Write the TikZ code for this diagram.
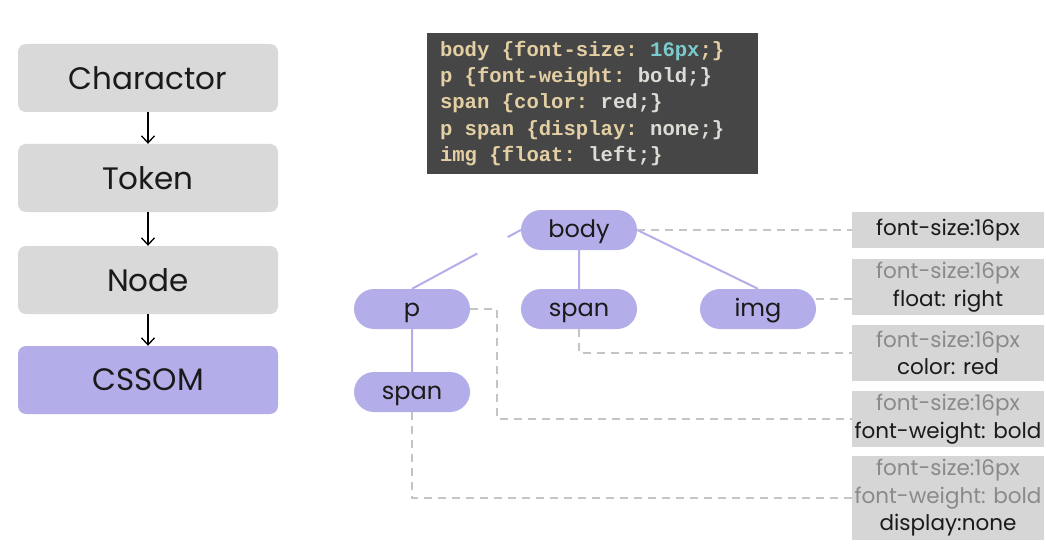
\documentclass[tikz,border=0pt]{standalone}
\usepackage{fontspec}
\setmainfont{Poppins}
\setmonofont{Liberation Mono}
\usetikzlibrary{arrows.meta,shapes.misc}
\definecolor{boxgray}{HTML}{D9D9D9}
\definecolor{propgray}{HTML}{D6D6D6}
\definecolor{lav}{HTML}{B3AEEA}
\definecolor{codebg}{HTML}{464646}
\definecolor{codetan}{HTML}{E3CFA3}
\definecolor{codeval}{HTML}{DCDCD6}
\definecolor{codeteal}{HTML}{7CCBCC}
\definecolor{dashgray}{HTML}{C4C4C4}
\definecolor{inhgray}{HTML}{8A8A8A}
\definecolor{txt}{HTML}{1A1A1A}
\newcommand\msp{\hspace*{0.6em}}
\tikzset{
  flowbox/.style={rounded corners=8pt, fill=boxgray, minimum width=260pt, minimum height=68pt, inner sep=0pt, text=txt, font=\fontsize{31}{34}\selectfont},
  flowarrow/.style={line width=1.3pt, -{Straight Barb[length=7pt,width=13pt]}},
  pill/.style={rounded rectangle, fill=lav, minimum width=116pt, minimum height=40pt, inner sep=0pt, text=txt, text height=17pt, text depth=1.8pt, font=\fontsize{24}{26}\selectfont},
  treeline/.style={draw=lav, line width=2pt},
  prop/.style={fill=propgray, minimum width=192pt, inner sep=0pt, align=center, text=txt, font=\fontsize{21.5}{27.5}\selectfont},
  dashline/.style={draw=dashgray, line width=1.5pt, dash pattern=on 8pt off 6pt}
}
\begin{document}
\begin{tikzpicture}[x=1pt,y=-1pt]
\useasboundingbox (0,0) rectangle (1046,548);
% left flow
\node[flowbox] (c1) at (148,78) {Charactor};
\node[flowbox] (c2) at (148,178) {Token};
\node[flowbox] (c3) at (148,280) {Node};
\node[flowbox, fill=lav] (c4) at (148,380) {CSSOM};
\draw[flowarrow] (c1) -- (c2);
\draw[flowarrow] (c2) -- (c3);
\draw[flowarrow] (c3) -- (c4);
% code box
\node[fill=codebg, minimum width=331pt, minimum height=141pt, text width=305pt, align=left, inner sep=0pt,
      font=\ttfamily\bfseries\fontsize{20.6}{26.4}\selectfont] (css) at (592.5,103.5) {%
{\color{codetan}body\msp\{font-size:\msp}{\color{codeteal}16px}{\color{codetan};\}}\\
{\color{codetan}p\msp\{font-weight:\msp}{\color{codeval}bold;\}}\\
{\color{codetan}span\msp\{color:\msp}{\color{codeval}red;\}}\\
{\color{codetan}p\msp span\msp\{display:\msp}{\color{codeval}none;\}}\\
{\color{codetan}img\msp\{float:\msp}{\color{codeval}left;\}}};
% property boxes
\node[prop, minimum height=36pt] (r1) at (948,230) {font-size:16px};
\node[prop, minimum height=56pt] (r2) at (948,287) {{\color{inhgray}font-size:16px}\\float: right};
\node[prop, minimum height=56pt] (r3) at (948,353) {{\color{inhgray}font-size:16px}\\color: red};
\node[prop, minimum height=56pt] (r4) at (948,419) {{\color{inhgray}font-size:16px}\\font-weight: bold};
\node[prop, minimum height=84pt] (r5) at (948,498) {{\color{inhgray}font-size:16px}\\{\color{inhgray}font-weight: bold}\\display:none};
% tree
\node[pill] (body) at (579,230) {body};
\node[pill] (p) at (412,309) {p};
\node[pill] (span) at (579,309) {span};
\node[pill] (img) at (758,309) {img};
\node[pill] (span2) at (412,392) {span};
\path (body.west) -- (p.north) coordinate[pos=0.12] (g1) coordinate[pos=0.40] (g2);
\draw[treeline] (body.west) -- (g1);
\draw[treeline] (g2) -- (p.north);
\draw[treeline] (body) -- (span);
\draw[treeline] (body.east) -- (img.north);
\draw[treeline] (p) -- (span2);
% dashed connectors
\draw[dashline] (body.east) -- (r1.west);
\draw[dashline] ([yshift=10pt]img.east) coordinate (i1) -- (i1 -| r2.west);
\draw[dashline] (span.south) |- (r3.west);
\draw[dashline] (p.east) -- ++(27,0) |- (r4.west);
\draw[dashline] (span2.south) |- (r5.west);
\end{tikzpicture}
\end{document}
